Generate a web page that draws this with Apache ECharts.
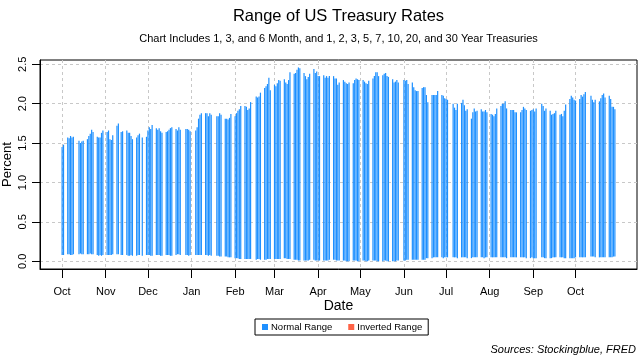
<!DOCTYPE html>
<html>
<head>
<meta charset="utf-8">
<script src="https://cdn.jsdelivr.net/npm/echarts@6/dist/echarts.min.js"></script>
<style>html,body{margin:0;padding:0;background:#fff}#c{width:640px;height:360px}</style>
</head>
<body>
<div id="c"></div>
<script>
// ---- Data: trading days, daily max and min of the treasury curve (percent) ----
const dates = [
"2020-10-01","2020-10-02","2020-10-05","2020-10-06","2020-10-07","2020-10-08","2020-10-09","2020-10-13","2020-10-14","2020-10-15","2020-10-16","2020-10-19","2020-10-20","2020-10-21","2020-10-22","2020-10-23","2020-10-26","2020-10-27","2020-10-28","2020-10-29","2020-10-30",
"2020-11-02","2020-11-03","2020-11-04","2020-11-05","2020-11-06","2020-11-09","2020-11-10","2020-11-12","2020-11-13","2020-11-16","2020-11-17","2020-11-18","2020-11-19","2020-11-20","2020-11-23","2020-11-24","2020-11-25","2020-11-27","2020-11-30",
"2020-12-01","2020-12-02","2020-12-03","2020-12-04","2020-12-07","2020-12-08","2020-12-09","2020-12-10","2020-12-11","2020-12-14","2020-12-15","2020-12-16","2020-12-17","2020-12-18","2020-12-21","2020-12-22","2020-12-23","2020-12-24","2020-12-28","2020-12-29","2020-12-30","2020-12-31",
"2021-01-04","2021-01-05","2021-01-06","2021-01-07","2021-01-08","2021-01-11","2021-01-12","2021-01-13","2021-01-14","2021-01-15","2021-01-19","2021-01-20","2021-01-21","2021-01-22","2021-01-25","2021-01-26","2021-01-27","2021-01-28","2021-01-29",
"2021-02-01","2021-02-02","2021-02-03","2021-02-04","2021-02-05","2021-02-08","2021-02-09","2021-02-10","2021-02-11","2021-02-12","2021-02-16","2021-02-17","2021-02-18","2021-02-19","2021-02-22","2021-02-23","2021-02-24","2021-02-25","2021-02-26",
"2021-03-01","2021-03-02","2021-03-03","2021-03-04","2021-03-05","2021-03-08","2021-03-09","2021-03-10","2021-03-11","2021-03-12","2021-03-15","2021-03-16","2021-03-17","2021-03-18","2021-03-19","2021-03-22","2021-03-23","2021-03-24","2021-03-25","2021-03-26","2021-03-29","2021-03-30","2021-03-31",
"2021-04-01","2021-04-02","2021-04-05","2021-04-06","2021-04-07","2021-04-08","2021-04-09","2021-04-12","2021-04-13","2021-04-14","2021-04-15","2021-04-16","2021-04-19","2021-04-20","2021-04-21","2021-04-22","2021-04-23","2021-04-26","2021-04-27","2021-04-28","2021-04-29","2021-04-30",
"2021-05-03","2021-05-04","2021-05-05","2021-05-06","2021-05-07","2021-05-10","2021-05-11","2021-05-12","2021-05-13","2021-05-14","2021-05-17","2021-05-18","2021-05-19","2021-05-20","2021-05-21","2021-05-24","2021-05-25","2021-05-26","2021-05-27","2021-05-28",
"2021-06-01","2021-06-02","2021-06-03","2021-06-04","2021-06-07","2021-06-08","2021-06-09","2021-06-10","2021-06-11","2021-06-14","2021-06-15","2021-06-16","2021-06-17","2021-06-18","2021-06-21","2021-06-22","2021-06-23","2021-06-24","2021-06-25","2021-06-28","2021-06-29","2021-06-30",
"2021-07-01","2021-07-02","2021-07-06","2021-07-07","2021-07-08","2021-07-09","2021-07-12","2021-07-13","2021-07-14","2021-07-15","2021-07-16","2021-07-19","2021-07-20","2021-07-21","2021-07-22","2021-07-23","2021-07-26","2021-07-27","2021-07-28","2021-07-29","2021-07-30",
"2021-08-02","2021-08-03","2021-08-04","2021-08-05","2021-08-06","2021-08-09","2021-08-10","2021-08-11","2021-08-12","2021-08-13","2021-08-16","2021-08-17","2021-08-18","2021-08-19","2021-08-20","2021-08-23","2021-08-24","2021-08-25","2021-08-26","2021-08-27","2021-08-30","2021-08-31",
"2021-09-01","2021-09-02","2021-09-03","2021-09-07","2021-09-08","2021-09-09","2021-09-10","2021-09-13","2021-09-14","2021-09-15","2021-09-16","2021-09-17","2021-09-20","2021-09-21","2021-09-22","2021-09-23","2021-09-24","2021-09-27","2021-09-28","2021-09-29","2021-09-30",
"2021-10-01","2021-10-04","2021-10-05","2021-10-06","2021-10-07","2021-10-08","2021-10-12","2021-10-13","2021-10-14","2021-10-15","2021-10-18","2021-10-19","2021-10-20","2021-10-21","2021-10-22","2021-10-25","2021-10-26","2021-10-27","2021-10-28","2021-10-29"
];
const highs = [
1.45,1.48,1.57,1.56,1.59,1.57,1.58,1.53,1.50,1.52,1.53,1.55,1.59,1.62,1.67,1.64,1.58,1.57,1.57,1.63,1.66,
1.64,1.66,1.55,1.54,1.60,1.72,1.75,1.64,1.65,1.66,1.63,1.63,1.59,1.55,1.57,1.60,1.62,1.57,1.58,
1.66,1.70,1.68,1.73,1.69,1.67,1.69,1.65,1.63,1.64,1.65,1.67,1.69,1.70,1.68,1.66,1.70,1.67,1.68,1.68,1.67,1.65,
1.66,1.70,1.81,1.86,1.88,1.88,1.88,1.84,1.88,1.86,1.84,1.84,1.88,1.86,1.81,1.81,1.80,1.82,1.87,
1.84,1.88,1.91,1.93,1.97,1.97,1.96,1.92,1.94,2.02,2.09,2.08,2.09,2.14,2.20,2.22,2.25,2.33,2.17,
2.24,2.22,2.26,2.30,2.29,2.31,2.27,2.25,2.30,2.40,2.38,2.39,2.43,2.46,2.45,2.39,2.35,2.31,2.34,2.38,2.44,2.39,2.41,
2.35,2.35,2.36,2.33,2.35,2.33,2.35,2.35,2.32,2.32,2.24,2.27,2.30,2.28,2.26,2.25,2.27,2.26,2.30,2.32,2.31,2.30,
2.30,2.28,2.26,2.25,2.29,2.32,2.35,2.40,2.40,2.35,2.36,2.38,2.39,2.35,2.34,2.31,2.27,2.28,2.30,2.27,
2.30,2.29,2.30,2.25,2.27,2.21,2.17,2.16,2.16,2.20,2.21,2.21,2.11,2.02,2.11,2.11,2.11,2.11,2.16,2.11,2.10,2.07,
2.06,2.05,2.00,1.95,1.92,2.00,2.01,2.05,1.98,1.91,1.93,1.81,1.89,1.94,1.90,1.91,1.93,1.90,1.90,1.92,1.89,
1.87,1.86,1.84,1.87,1.94,1.97,2.00,2.00,2.03,1.94,1.92,1.92,1.92,1.89,1.89,1.89,1.92,1.96,1.94,1.92,1.91,1.92,
1.93,1.90,1.94,2.00,1.97,1.91,1.94,1.91,1.86,1.87,1.88,1.91,1.86,1.87,1.84,1.91,1.99,2.06,2.10,2.08,2.05,
2.04,2.06,2.11,2.09,2.12,2.15,2.10,2.05,2.02,2.05,2.03,2.07,2.11,2.13,2.08,2.10,2.06,1.96,1.96,1.93
];
const lows = [
0.08,0.08,0.09,0.09,0.08,0.08,0.09,0.09,0.10,0.09,0.09,0.09,0.09,0.10,0.09,0.09,0.08,0.07,0.08,0.07,0.08,
0.08,0.08,0.08,0.08,0.09,0.09,0.09,0.08,0.08,0.08,0.07,0.07,0.08,0.07,0.07,0.08,0.08,0.07,0.08,
0.08,0.08,0.07,0.07,0.08,0.08,0.08,0.07,0.07,0.08,0.08,0.08,0.07,0.07,0.08,0.09,0.09,0.08,0.08,0.08,0.07,0.08,
0.08,0.08,0.08,0.08,0.08,0.08,0.08,0.07,0.08,0.07,0.07,0.07,0.06,0.06,0.06,0.06,0.05,0.05,0.05,
0.04,0.04,0.04,0.03,0.03,0.03,0.03,0.03,0.03,0.03,0.02,0.03,0.03,0.02,0.02,0.02,0.03,0.03,0.03,
0.03,0.03,0.03,0.03,0.03,0.04,0.04,0.03,0.03,0.03,0.02,0.02,0.02,0.01,0.01,0.01,0.01,0.01,0.01,0.02,0.02,0.01,0.01,
0.01,0.01,0.01,0.01,0.01,0.01,0.02,0.02,0.02,0.01,0.01,0.01,0.01,0.01,0.00,0.00,0.00,0.01,0.01,0.01,0.00,0.00,
0.01,0.01,0.00,0.00,0.01,0.01,0.01,0.01,0.00,0.00,0.00,0.01,0.01,0.00,0.00,0.00,0.00,0.00,0.01,0.01,
0.01,0.01,0.02,0.02,0.02,0.02,0.02,0.02,0.02,0.02,0.02,0.02,0.04,0.04,0.04,0.05,0.05,0.05,0.05,0.05,0.04,0.05,
0.05,0.05,0.05,0.05,0.05,0.04,0.05,0.05,0.05,0.05,0.04,0.04,0.05,0.05,0.05,0.05,0.05,0.05,0.04,0.05,0.05,
0.05,0.05,0.05,0.05,0.05,0.05,0.05,0.05,0.05,0.04,0.05,0.05,0.05,0.05,0.05,0.05,0.05,0.05,0.05,0.04,0.04,0.05,
0.04,0.04,0.04,0.05,0.05,0.04,0.04,0.04,0.04,0.05,0.05,0.05,0.05,0.05,0.05,0.04,0.04,0.04,0.04,0.04,0.04,
0.05,0.05,0.05,0.05,0.05,0.05,0.06,0.06,0.06,0.05,0.05,0.05,0.05,0.05,0.05,0.05,0.05,0.05,0.06,0.06
];
// Inverted ranges: none in this period
const invertedDates = [];
const invertedHighs = [];
const invertedLows = [];

const monthTicks = ["2020-10-01","2020-11-01","2020-12-01","2021-01-01","2021-02-01","2021-03-01","2021-04-01","2021-05-01","2021-06-01","2021-07-01","2021-08-01","2021-09-01","2021-10-01"];
const monthLabels = ["Oct","Nov","Dec","Jan","Feb","Mar","Apr","May","Jun","Jul","Aug","Sep","Oct"];
const yTicks = [0, 0.5, 1, 1.5, 2, 2.5];

// ---- Build ----
const toTs = s => { const p = s.split('-'); return Date.UTC(+p[0], +p[1]-1, +p[2]); };
const normalData = dates.map((d, i) => [toTs(d), lows[i], highs[i]]);
const invertedData = invertedDates.map((d, i) => [toTs(d), invertedLows[i], invertedHighs[i]]);
const first = toTs(dates[0]), last = toTs(dates[dates.length - 1]);
const padX = 0.04 * (last - first);
const tickTs = monthTicks.map(toTs);
const labelMap = {};
tickTs.forEach((t, i) => labelMap[t] = monthLabels[i]);

const FONT = 'Liberation Sans, Arial, sans-serif';
const PLOT_CX = 338.5;
function rangeRender(color) {
  return function (params, api) {
    const x = api.value(0), lo = api.value(1), hi = api.value(2);
    const pHi = api.coord([x, hi]);
    const pLo = api.coord([x, lo]);
    return {
      type: 'rect',
      shape: { x: pHi[0] - 0.6, y: pHi[1], width: 1.2, height: pLo[1] - pHi[1] },
      style: { fill: color }
    };
  };
}

const chart = echarts.init(document.getElementById('c'), null, { renderer: 'canvas' });
chart.setOption({
  animation: false,
  color: ['#1E90FF', '#FF6347'],
  graphic: [
    { type: 'text', x: PLOT_CX, y: 16, style: { text: 'Range of US Treasury Rates', align: 'center', verticalAlign: 'middle',
      font: '16.5px ' + FONT, fill: '#000' } },
    { type: 'text', x: PLOT_CX, y: 39, style: { text: 'Chart Includes 1, 3, and 6 Month, and 1, 2, 3, 5, 7, 10, 20, and 30 Year Treasuries',
      align: 'center', verticalAlign: 'middle', font: '11px ' + FONT, fill: '#000' } },
    { type: 'text', x: 636, y: 350, style: { text: 'Sources: Stockingblue, FRED', align: 'right', verticalAlign: 'middle',
      font: 'italic 11px ' + FONT, fill: '#000' } }
  ],
  legend: {
    data: ['Normal Range', 'Inverted Range'],
    left: 255, top: 319,
    icon: 'rect', itemWidth: 6, itemHeight: 6, itemGap: 16,
    padding: [3, 6, 3, 7],
    borderColor: '#000', borderWidth: 1,
    textStyle: { fontFamily: FONT, fontSize: 9.5, color: '#000', padding: [0, 0, 0, -2] }
  },
  grid: { left: 40, right: 3, top: 60, bottom: 91, show: true, borderColor: '#000', borderWidth: 1,
          containLabel: false, outerBoundsMode: 'none' },
  xAxis: {
    type: 'value',
    min: first - padX, max: last + padX,
    name: 'Date', nameLocation: 'middle', nameGap: 30, nameMoveOverlap: false,
    nameTextStyle: { fontFamily: FONT, fontSize: 14, color: '#000' },
    axisLine: { show: true, onZero: false, lineStyle: { color: '#000', width: 1 } },
    axisTick: { show: true, length: 9, customValues: tickTs, lineStyle: { color: '#000' } },
    axisLabel: { customValues: tickTs, margin: 17, fontFamily: FONT, fontSize: 11, color: '#000',
                 formatter: v => labelMap[v] || '' },
    splitLine: { show: true, lineStyle: { color: '#c8c8c8', type: [3, 3], width: 1 } }
  },
  yAxis: {
    type: 'value',
    min: -0.0977, max: 2.5546,
    name: 'Percent', nameLocation: 'middle', nameGap: 26, nameMoveOverlap: false,
    nameTextStyle: { fontFamily: FONT, fontSize: 13, color: '#000' },
    axisLine: { show: true, onZero: false, lineStyle: { color: '#000', width: 1 } },
    axisTick: { show: true, length: 8, customValues: yTicks, lineStyle: { color: '#000' } },
    axisLabel: { customValues: yTicks, rotate: 90, margin: 12, fontFamily: FONT, fontSize: 11, color: '#000',
                 formatter: v => v.toFixed(1) },
    splitLine: { show: true, lineStyle: { color: '#c8c8c8', type: [3, 3], width: 1 } }
  },
  series: [
    { name: 'Normal Range', type: 'custom', renderItem: rangeRender('#1E90FF'),
      itemStyle: { color: '#1E90FF' }, encode: { x: 0, y: [1, 2] }, data: normalData },
    { name: 'Inverted Range', type: 'custom', renderItem: rangeRender('#FF6347'),
      itemStyle: { color: '#FF6347' }, encode: { x: 0, y: [1, 2] }, data: invertedData }
  ]
});
</script>
</body>
</html>
